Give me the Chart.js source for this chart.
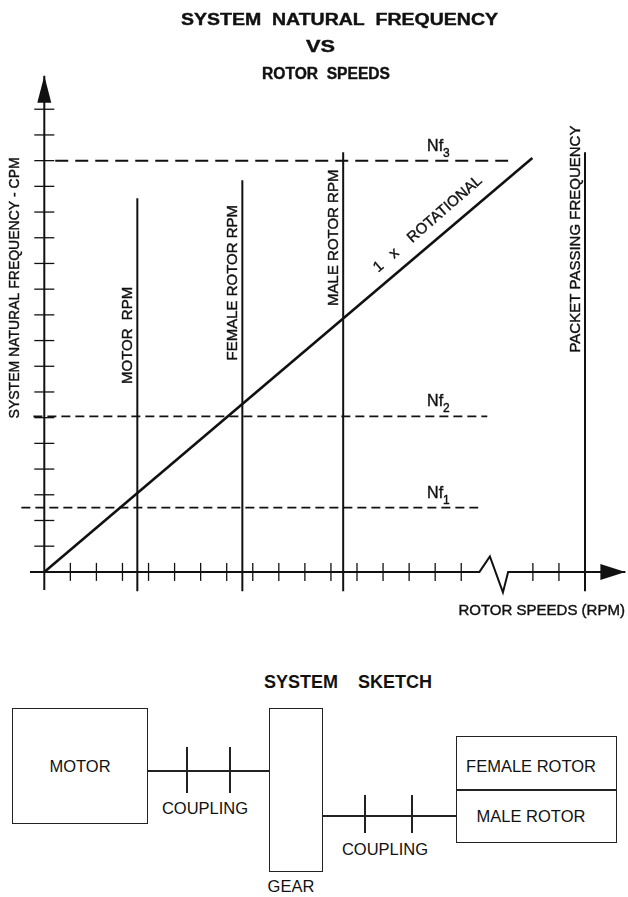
<!DOCTYPE html>
<html>
<head>
<meta charset="utf-8">
<script src="https://cdn.jsdelivr.net/npm/chart.js@4.4.1/dist/chart.umd.min.js"></script>
<style>
body { margin: 0; background: #fff; font-family: "Liberation Sans", Arial, sans-serif; color: #111; }
#page { position: relative; width: 628px; height: 897px; overflow: hidden; }
#chart { position: absolute; left: 0; top: 0; }
.box { position: absolute; border: 1.5px solid #222; box-sizing: border-box; }
.ln { position: absolute; background: #222; }
.lbl { position: absolute; font-size: 16.5px; line-height: 1; white-space: pre; transform: translateX(-50%); }
.ttl { font-weight: bold; font-size: 18px; }
</style>
</head>
<body>
<div id="page">
  <canvas id="chart" width="628" height="640"></canvas>

  <!-- system sketch -->
  <div class="lbl ttl" style="left:348px;top:673px">SYSTEM    SKETCH</div>
  <div class="box" style="left:12px;top:708px;width:136px;height:116px"></div>
  <div class="lbl" style="left:80px;top:758px">MOTOR</div>
  <div class="ln" style="left:148px;top:770px;width:121px;height:1.5px"></div>
  <div class="ln" style="left:186px;top:747px;width:1.5px;height:46px"></div>
  <div class="ln" style="left:229px;top:747px;width:1.5px;height:46px"></div>
  <div class="lbl" style="left:205px;top:800px">COUPLING</div>
  <div class="box" style="left:269px;top:708px;width:54px;height:164px"></div>
  <div class="lbl" style="left:291px;top:878px">GEAR</div>
  <div class="ln" style="left:323px;top:815px;width:133px;height:1.5px"></div>
  <div class="ln" style="left:364px;top:795px;width:1.5px;height:38px"></div>
  <div class="ln" style="left:411px;top:795px;width:1.5px;height:38px"></div>
  <div class="lbl" style="left:385px;top:841px">COUPLING</div>
  <div class="box" style="left:456px;top:736px;width:161px;height:107px"></div>
  <div class="ln" style="left:456px;top:789px;width:161px;height:1.5px"></div>
  <div class="lbl" style="left:531px;top:758px">FEMALE ROTOR</div>
  <div class="lbl" style="left:531px;top:808px">MALE ROTOR</div>
</div>

<script>
// tick positions (axis units)
const xTicks = [1, 2, 3, 4, 5, 6, 7, 8, 9, 10, 11, 12, 13, 14, 15, 16, 18.75, 19.75, 20.75];
const yTicks = [1, 2, 3, 4, 5, 6, 7, 8, 9, 10, 11, 12, 13, 14, 15, 16, 17, 18];

// x axis with the break zig-zag
const axisX = [-0.55, 16.7, 17.1, 17.6, 17.8, 22.3];
const axisXY = [0, 0, 0.6, -0.8, 0, 0];
const axisYBottom = -0.7;
const axisYTop = 19.3;

// 1 x rotational line
const rotX = [0, 18.73];
const rotY = [0, 16.1];

// speed lines
const speedNames = ['MOTOR  RPM', 'FEMALE ROTOR RPM', 'MALE ROTOR RPM', 'PACKET PASSING FREQUENCY'];
const speedX = [3.57, 7.6, 11.47, 20.75];
const speedTop = [14.54, 15.24, 16.33, 16.33];
const speedBottom = -0.75;
const speedLabelY = [9.2, 11.25, 13.0, 12.95];

// natural frequencies
const nfNames = ['1', '2', '3'];
const nfY = [2.5, 6.05, 16];
const nfStart = [-0.88, -0.42, 0.42];
const nfEnd = [16.65, 17.0, 17.8];

const FONT = '"Liberation Sans", Arial, sans-serif';
const INK = '#111';

const datasets = [];

// axes
datasets.push({
    data: axisX.map((x, i) => ({ x, y: axisXY[i] })),
    showLine: true, borderColor: INK, borderWidth: 2, pointRadius: 0
});
datasets.push({
    data: [{ x: 0, y: axisYBottom }, { x: 0, y: axisYTop }],
    showLine: true, borderColor: INK, borderWidth: 2, pointRadius: 0
});

// tick marks
datasets.push({
    data: xTicks.map(x => ({ x, y: 0 })),
    showLine: false, pointStyle: 'line', pointRotation: 90, pointRadius: 9,
    pointBorderColor: INK, pointBorderWidth: 1.3
});
datasets.push({
    data: yTicks.map(y => ({ x: 0, y })),
    showLine: false, pointStyle: 'line', pointRotation: 0, pointRadius: 10,
    pointBorderColor: INK, pointBorderWidth: 1.3
});

// natural frequency lines
nfY.forEach((y, i) => {
    datasets.push({
        data: [{ x: nfStart[i], y }, { x: nfEnd[i], y }],
        showLine: true, borderColor: INK, pointRadius: 0,
        borderWidth: i === 2 ? 2 : 1.6,
        borderDash: i === 2 ? [13, 7] : [9, 5]
    });
});

// speed lines
speedX.forEach((x, i) => {
    datasets.push({
        data: [{ x, y: speedBottom }, { x, y: speedTop[i] }],
        showLine: true, borderColor: INK, borderWidth: 2, pointRadius: 0
    });
});

// 1 x rotational
datasets.push({
    data: rotX.map((x, i) => ({ x, y: rotY[i] })),
    showLine: true, borderColor: INK, borderWidth: 2.6, pointRadius: 0
});

function text(ctx, str, x, y, font, opts = {}) {
    ctx.save();
    ctx.translate(x, y);
    if (opts.rot) ctx.rotate(opts.rot * Math.PI / 180);
    ctx.font = font;
    if (opts.width) {
        ctx.scale(opts.width / ctx.measureText(str).width, 1);
    }
    ctx.fillStyle = INK;
    ctx.strokeStyle = INK;
    ctx.lineWidth = 0.4;
    ctx.textAlign = opts.align || 'center';
    ctx.textBaseline = opts.baseline || 'middle';
    ctx.fillText(str, 0, 0);
    ctx.strokeText(str, 0, 0);
    ctx.restore();
}

const drawingPlugin = {
    id: 'drawing',
    afterDatasetsDraw(chart) {
        const ctx = chart.ctx;
        const sx = chart.scales.x;
        const sy = chart.scales.y;
        const px = v => sx.getPixelForValue(v);
        const py = v => sy.getPixelForValue(v);

        // arrow heads
        ctx.save();
        ctx.fillStyle = INK;
        const ox = px(0), tipY = py(axisYTop);
        ctx.beginPath();
        ctx.moveTo(ox, tipY);
        ctx.lineTo(ox - 7, tipY + 27);
        ctx.lineTo(ox + 7, tipY + 27);
        ctx.closePath();
        ctx.fill();
        const oy = py(0), tipX = px(axisX[axisX.length - 1]);
        ctx.beginPath();
        ctx.moveTo(tipX, oy);
        ctx.lineTo(tipX - 25, oy - 8);
        ctx.lineTo(tipX - 25, oy + 8);
        ctx.closePath();
        ctx.fill();
        ctx.restore();

        // titles
        const bold = 'bold 16px ' + FONT;
        text(ctx, 'SYSTEM  NATURAL  FREQUENCY', 339.5, 25, bold, { baseline: 'alphabetic', width: 317 });
        text(ctx, 'VS', 320.5, 52, bold, { baseline: 'alphabetic', width: 29 });
        text(ctx, 'ROTOR  SPEEDS', 326, 79, bold, { baseline: 'alphabetic', width: 128 });

        // axis titles
        text(ctx, 'SYSTEM NATURAL FREQUENCY - CPM', px(-1.12), py(11.05), '14px ' + FONT, { rot: -90 });
        text(ctx, 'ROTOR SPEEDS (RPM)', px(22.28), py(-1.68), '15px ' + FONT, { align: 'right', baseline: 'alphabetic' });

        // speed line labels
        speedNames.forEach((name, i) => {
            text(ctx, name, px(speedX[i]) - 9, py(speedLabelY[i]), '15px ' + FONT, { rot: -90 });
        });

        // 1 x rotational label
        text(ctx, '1   x    ROTATIONAL', px(14.72), py(13.53), '15px ' + FONT, { rot: -41 });

        // Nf labels
        nfY.forEach((y, i) => {
            const lx = px(14.69), ly = py(y) - 10;
            text(ctx, 'Nf', lx, ly, '16px ' + FONT, { align: 'left', baseline: 'alphabetic' });
            ctx.font = '16px ' + FONT;
            const w = ctx.measureText('Nf').width;
            text(ctx, nfNames[i], lx + w, ly + 6, '12px ' + FONT, { align: 'left', baseline: 'alphabetic' });
        });
    }
};

new Chart(document.getElementById('chart'), {
    type: 'scatter',
    data: { datasets },
    options: {
        responsive: false,
        animation: false,
        events: [],
        layout: { autoPadding: false, padding: 0 },
        plugins: { legend: { display: false }, tooltip: { enabled: false }, title: { display: false } },
        scales: {
            x: { type: 'linear', min: -1.7, max: 22.4, display: false },
            y: { type: 'linear', min: -2.65, max: 22.25, display: false }
        }
    },
    plugins: [drawingPlugin]
});
</script>
</body>
</html>
